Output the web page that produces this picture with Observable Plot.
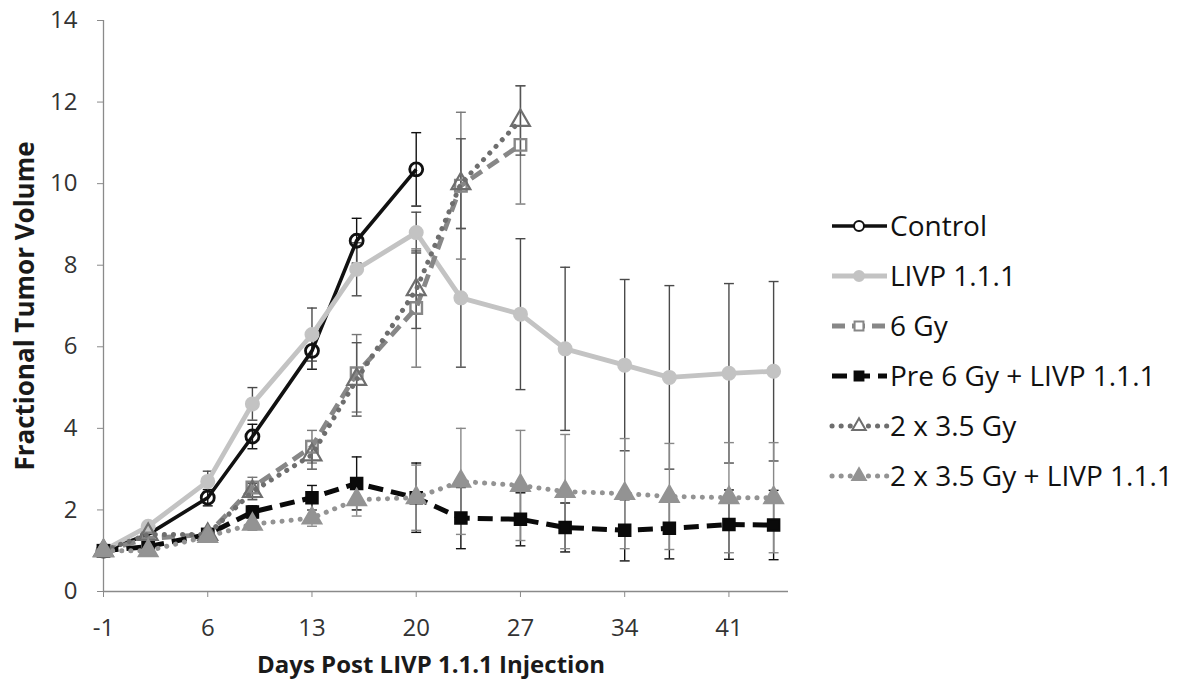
<!DOCTYPE html>
<html><head><meta charset="utf-8">
<script src="https://cdn.jsdelivr.net/npm/d3@7"></script>
<script src="https://cdn.jsdelivr.net/npm/@observablehq/plot@0.6"></script>
<style>
body{margin:0;background:#fff}
#wrap{position:relative;width:1181px;height:682px}
#legend{position:absolute;left:0;top:0}
</style>
</head><body><div id="wrap"></div>
<script>
// ---- data ----
const days = [-1, 2, 6, 9, 13, 16, 20, 23, 27, 30, 34, 37, 41, 44];
const xTicks = [-1, 6, 13, 20, 27, 34, 41];
const yTicks = [0, 2, 4, 6, 8, 10, 12, 14];
const seriesNames = ["Control", "LIVP 1.1.1", "6 Gy", "Pre 6 Gy + LIVP 1.1.1", "2 x 3.5 Gy", "2 x 3.5 Gy + LIVP 1.1.1"];

const control      = [1.0, 1.4, 2.3, 3.8, 5.9, 8.6, 10.35];
const controlErr   = [0, 0.1, 0.2, 0.3, 0.45, 0.55, 0.9];
const livp         = [1.0, 1.6, 2.7, 4.6, 6.3, 7.9, 8.8, 7.2, 6.8, 5.95, 5.55, 5.25, 5.35, 5.4];
const livpErr      = [0, 0.1, 0.25, 0.4, 0.65, 0.65, 0.5, 1.7, 1.85, 2.0, 2.1, 2.25, 2.2, 2.2];
const sixGy        = [1.0, 1.3, 1.4, 2.55, 3.55, 5.35, 6.95, 9.95, 10.95];
const sixGyErr     = [0, 0.1, 0.1, 0.25, 0.4, 0.95, 1.45, 1.8, 1.45];
const pre6         = [1.0, 1.1, 1.4, 1.95, 2.3, 2.65, 2.3, 1.8, 1.77, 1.57, 1.5, 1.55, 1.64, 1.63];
const pre6Err      = [0, 0.05, 0.1, 0.15, 0.3, 0.65, 0.85, 0.75, 0.65, 0.6, 0.75, 0.75, 0.85, 0.85];
const twoGy        = [1.0, 1.4, 1.4, 2.45, 3.35, 5.2, 7.4, 10.0, 11.55];
const twoGyErr     = [0, 0.1, 0.1, 0.2, 0.35, 0.9, 0.95, 1.1, 0.85];
const twoLivp      = [1.0, 1.0, 1.35, 1.65, 1.8, 2.25, 2.3, 2.7, 2.6, 2.45, 2.4, 2.33, 2.3, 2.3];
const twoLivpErr   = [0, 0.05, 0.1, 0.15, 0.2, 0.4, 0.8, 1.3, 1.35, 1.4, 1.35, 1.3, 1.35, 1.35];

const values = [control, livp, sixGy, pre6, twoGy, twoLivp];
const errs = [controlErr, livpErr, sixGyErr, pre6Err, twoGyErr, twoLivpErr];

// ---- styles ----
const styles = [
  {line: "#111", width: 3.6, dash: null, cap: "butt", symbol: "circle", mfill: "none", mstroke: "#111", r: 6.5, sw: 2.8, err: "#111"},
  {line: "#c3c3c3", width: 4.8, dash: null, cap: "butt", symbol: "circle", mfill: "#c3c3c3", mstroke: "#c3c3c3", r: 6.5, sw: 2, err: "#4a4a4a"},
  {line: "#878787", width: 4.8, dash: "13,7", cap: "butt", symbol: "square", mfill: "none", mstroke: "#878787", r: 6.5, sw: 2.4, err: "#777"},
  {line: "#0a0a0a", width: 5, dash: "15,8", cap: "butt", symbol: "square", mfill: "#0a0a0a", mstroke: "#0a0a0a", r: 6.5, sw: 2, err: "#111"},
  {line: "#6e6e6e", width: 5, dash: "0.1,9", cap: "round", symbol: "triangle", mfill: "none", mstroke: "#6e6e6e", r: 7, sw: 2.2, err: "#555"},
  {line: "#939393", width: 5, dash: "0.1,9", cap: "round", symbol: "triangle", mfill: "#939393", mstroke: "#939393", r: 7, sw: 2, err: "#888"}
];

const rows = [];
seriesNames.forEach((s, i) => values[i].forEach((v, j) => rows.push({s, i, day: days[j], v, e: errs[i][j]})));
const caps = [];
rows.filter(d => d.e > 0).forEach(d => { caps.push({...d, y: d.v + d.e}); caps.push({...d, y: d.v - d.e}); });

const capSymbol = {draw(ctx, size) { const w = Math.sqrt(size) / 2; ctx.moveTo(-w, 0); ctx.lineTo(w, 0); }};
const FONT = "'Open Sans', sans-serif";

const marks = [
  Plot.axisY({ticks: yTicks, tickSize: 6, tickPadding: 20, stroke: "#8a8a8a", fill: "#333", label: null, fontSize: 24}),
  Plot.axisX({ticks: xTicks, tickSize: 6, tickPadding: 21, stroke: "#8a8a8a", fill: "#333", label: null, fontSize: 24, tickFormat: d => String(d)}),
  Plot.ruleY([0], {stroke: "#8a8a8a", strokeWidth: 1.3}),
  Plot.ruleX([-1], {stroke: "#8a8a8a", strokeWidth: 1.3})
];
styles.forEach((st, i) => {
  const data = rows.filter(d => d.i === i);
  const cdata = caps.filter(d => d.i === i);
  marks.push(Plot.ruleX(data.filter(d => d.e > 0), {x: "day", y1: d => d.v - d.e, y2: d => d.v + d.e, stroke: st.err, strokeWidth: 1.4}));
  marks.push(Plot.dot(cdata, {x: "day", y: "y", symbol: capSymbol, r: 5.6, stroke: st.err, strokeWidth: 1.4, fill: "none"}));
});
styles.forEach((st, i) => {
  const data = rows.filter(d => d.i === i);
  marks.push(Plot.line(data, {x: "day", y: "v", stroke: st.line, strokeWidth: st.width, strokeDasharray: st.dash, strokeLinecap: st.cap, strokeLinejoin: "round"}));
  marks.push(Plot.dot(data, {x: "day", y: "v", symbol: st.symbol, r: st.r, fill: st.mfill, stroke: st.mstroke, strokeWidth: st.sw}));
});
marks.push(Plot.text(["Days Post LIVP 1.1.1 Injection"], {frameAnchor: "bottom", lineAnchor: "middle", textAnchor: "middle", dy: 74, dx: -15, fontSize: 24, fontWeight: "bold", fill: "#1a1a1a"}));
marks.push(Plot.text(["Fractional Tumor Volume"], {frameAnchor: "left", lineAnchor: "middle", textAnchor: "middle", rotate: -90, dx: -78, dy: 0, fontSize: 26, fontWeight: "bold", fill: "#1a1a1a"}));

const chart = Plot.plot({
  width: 1181, height: 682,
  marginLeft: 103, marginRight: 393, marginTop: 20, marginBottom: 91,
  x: {domain: [-1, 45]},
  y: {domain: [0, 14]},
  style: {fontFamily: FONT, fontSize: "24px", background: "white", overflow: "visible"},
  marks
});
const wrap = document.getElementById("wrap");
wrap.appendChild(chart);

// ---- legend ----
const lg = d3.select(wrap).append("svg").attr("id", "legend").attr("width", 1181).attr("height", 682);
const symMap = {circle: d3.symbolCircle, square: d3.symbolSquare, triangle: d3.symbolTriangle};
seriesNames.forEach((name, i) => {
  const st = styles[i];
  const g = lg.append("g").attr("transform", `translate(832,${226 + i * 50})`);
  g.append("line").attr("x1", 0).attr("x2", 55).attr("y1", 0).attr("y2", 0)
    .attr("stroke", st.line).attr("stroke-width", st.width)
    .attr("stroke-dasharray", st.dash).attr("stroke-linecap", st.cap);
  g.append("path").attr("transform", "translate(27,0)")
    .attr("d", d3.symbol(symMap[st.symbol], Math.PI * 5 * 5)())
    .attr("fill", st.mfill === "none" ? "white" : st.mfill).attr("stroke", st.mstroke).attr("stroke-width", 2);
  g.append("text").attr("x", 58).attr("y", 0).attr("dy", "0.35em")
    .attr("font-family", FONT).attr("font-size", 28).attr("font-weight", 500)
    .attr("fill", "#111").text(name);
});
</script></body></html>
